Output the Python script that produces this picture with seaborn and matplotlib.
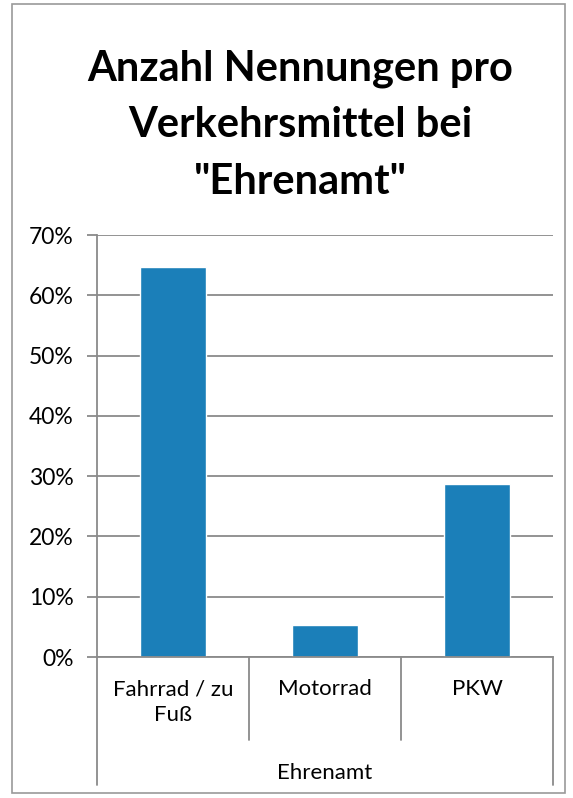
import matplotlib.pyplot as plt
import seaborn as sns
import pandas as pd
from matplotlib.lines import Line2D
from matplotlib.patches import Rectangle

# Daten
kategorien = ["Fahrrad / zu\nFuß", "Motorrad", "PKW"]
anteile = [0.647, 0.053, 0.287]
y_ticks = [0.0, 0.1, 0.2, 0.3, 0.4, 0.5, 0.6, 0.7]
y_labels = ["0%", "10%", "20%", "30%", "40%", "50%", "60%", "70%"]
gruppe = "Ehrenamt"
titel = 'Anzahl Nennungen pro\nVerkehrsmittel bei\n"Ehrenamt"'

df = pd.DataFrame({"Verkehrsmittel": kategorien, "Anteil": anteile})

sns.set_style("white")
plt.rcParams["font.family"] = ["Lato", "DejaVu Sans"]
plt.rcParams["text.color"] = "black"
plt.rcParams["ytick.labelcolor"] = "black"

W, H = 573, 798
fig = plt.figure(figsize=(W / 100, H / 100), dpi=100)
L, R, T, B = 97, 553, 235, 657
ax = fig.add_axes([L / W, 1 - B / H, (R - L) / W, (B - T) / H])

sns.barplot(data=df, x="Verkehrsmittel", y="Anteil", color="#1B7FB9",
            width=0.44, saturation=1, ax=ax)

ax.set_ylim(0, 0.7)
ax.set_xlim(-0.5, 2.5)
ax.set_yticks(y_ticks)
ax.set_yticklabels(y_labels, fontsize=16.5)
ax.set_xticks([])
ax.set_xlabel("")
ax.set_ylabel("")
ax.grid(axis="y", color="#8a8a8a", linewidth=1.3)
ax.set_axisbelow(True)
ax.tick_params(axis="y", length=7, width=1.3, color="#8a8a8a", pad=10, left=True)
for s in ["top", "right"]:
    ax.spines[s].set_visible(False)
ax.spines["left"].set_color("#8a8a8a")
ax.spines["left"].set_linewidth(1.3)
ax.spines["bottom"].set_color("#8a8a8a")
ax.spines["bottom"].set_linewidth(1.3)

# Kategorie-Achse im Tabellenstil unter dem Diagramm
def fx(px):
    return px / W

def fy(py):
    return 1 - py / H

grenzen = [L + (R - L) * i / 3 for i in range(4)]
for i, gx in enumerate(grenzen):
    unten = 785 if i in (0, 3) else 740
    fig.add_artist(Line2D([fx(gx), fx(gx)], [fy(B), fy(unten)],
                          color="#8a8a8a", linewidth=1.3))
for i, name in enumerate(kategorien):
    mx = (grenzen[i] + grenzen[i + 1]) / 2
    fig.text(fx(mx), fy(679), name, ha="center", va="top", fontsize=16,
             linespacing=1.4)
fig.text(fx((L + R) / 2), fy(773), gruppe, ha="center", va="center", fontsize=16)

# Titel
fig.text(fx(300), fy(125), titel, ha="center", va="center", fontsize=30,
         fontweight="bold", linespacing=1.6)

# Rahmen der Grafik
fig.add_artist(Rectangle((fx(12), fy(793)), fx(553), 793 / H - 0.005,
                         fill=False, edgecolor="#9a9a9a", linewidth=1.2))

fig.savefig("out.png", dpi=100)
